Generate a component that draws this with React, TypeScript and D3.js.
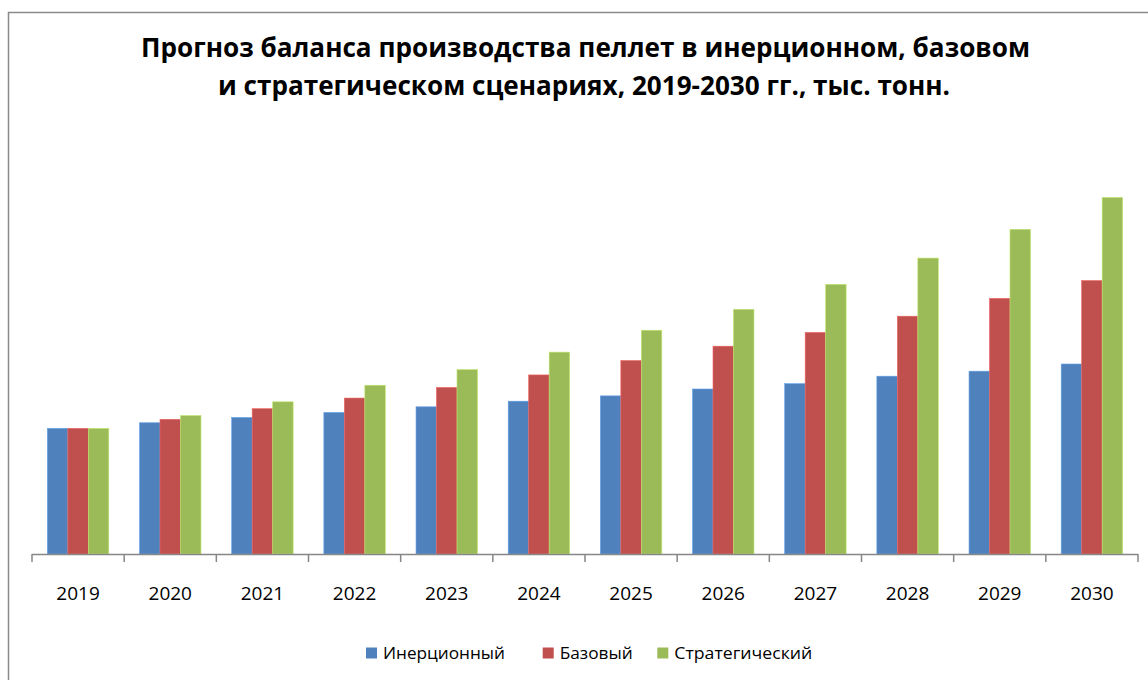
import React from "react";
import * as d3 from "d3";

const years = ["2019","2020","2021","2022","2023","2024","2025","2026","2027","2028","2029","2030"];
const seriesNames = ["Инерционный", "Базовый", "Стратегический"];
const inertial = [2010, 2100, 2185, 2265, 2355, 2445, 2530, 2640, 2725, 2845, 2925, 3040];
const baseline = [2010, 2155, 2325, 2495, 2665, 2865, 3095, 3325, 3545, 3805, 4090, 4375];
const strategic = [2010, 2215, 2435, 2700, 2950, 3230, 3580, 3915, 4315, 4735, 5195, 5705];
const colors = ["#4F81BD", "#C0504D", "#9BBB59"];
const titleLines = [
  "Прогноз баланса производства пеллет в инерционном, базовом",
  "и стратегическом сценариях, 2019-2030 гг., тыс. тонн.",
];

const W = 1148;
const H = 680;
const plot = { left: 32, right: 1138, base: 554, top: 179 };
const FONT = "'Open Sans', 'Liberation Sans', sans-serif";

export default function App() {
  const values = [inertial, baseline, strategic];
  const x = d3.scaleBand<string>().domain(years).range([plot.left, plot.right]).paddingInner(0).paddingOuter(0);
  const step = x.bandwidth();
  const barW = step / 4.5;
  const inner = d3
    .scaleBand<number>()
    .domain([0, 1, 2])
    .range([barW * 0.75, step - barW * 0.75])
    .padding(0);
  const y = d3.scaleLinear().domain([0, 6000]).range([plot.base, plot.top]);

  const tickXs = years.map((yr) => x(yr) as number).concat([plot.right]);

  // legend layout
  const textWidths = [122, 73, 138];
  const slotWidths = [176.7, 114.6, 160];
  const sq = 11;
  const gapSqText = 6;
  const legStart = 366;
  const legX: number[] = [];
  let acc = legStart;
  slotWidths.forEach((w) => {
    legX.push(acc);
    acc += w;
  });

  return (
    <svg
      width={W}
      height={H}
      style={{ position: "absolute", left: 0, top: 0, background: "#fff" }}
      xmlns="http://www.w3.org/2000/svg"
    >
      <rect x={0} y={0} width={W} height={H} fill="#fff" />
      <rect x={8.5} y={12.5} width={1300} height={800} fill="#fff" stroke="#8a8a8a" strokeWidth={1.5} />

      {/* title */}
      <g fontFamily="'Liberation Sans Narrow', 'Open Sans', sans-serif" fontWeight="bold" fontSize={26} fill="#000" textAnchor="middle">
        <text x={585.5} y={57} textLength={889} lengthAdjust="spacingAndGlyphs">{titleLines[0]}</text>
        <text x={584} y={95} textLength={732} lengthAdjust="spacingAndGlyphs">{titleLines[1]}</text>
      </g>

      {/* bars */}
      {years.map((yr, i) => (
        <g key={yr} transform={`translate(${x(yr)},0)`}>
          {values.map((s, k) => (
            <rect
              key={k}
              x={inner(k) as number}
              y={y(s[i])}
              width={inner.bandwidth()}
              height={plot.base - y(s[i])}
              fill={colors[k]}
              stroke={d3.color(colors[k])!.brighter(0.6).formatHex()}
              strokeWidth={0.6}
            />
          ))}
        </g>
      ))}

      {/* axis */}
      <line x1={plot.left} x2={plot.right} y1={plot.base + 0.5} y2={plot.base + 0.5} stroke="#868686" strokeWidth={1.5} />
      {tickXs.map((tx, i) => (
        <line key={i} x1={tx} x2={tx} y1={plot.base} y2={plot.base + 8} stroke="#868686" strokeWidth={1.5} />
      ))}
      {years.map((yr) => (
        <text
          key={yr}
          x={(x(yr) as number) + step / 2}
          y={600}
          textAnchor="middle"
          fontFamily={FONT}
          fontSize={19}
          fill="#000"
        >
          {yr}
        </text>
      ))}

      {/* legend */}
      {seriesNames.map((name, k) => (
        <g key={name} transform={`translate(${legX[k]},0)`}>
          <rect x={0} y={647.5} width={sq} height={sq} fill={colors[k]} />
          <text
            x={sq + gapSqText}
            y={658.5}
            fontFamily={FONT}
            fontSize={17}
            fill="#000"
            textLength={textWidths[k]}
            lengthAdjust="spacingAndGlyphs"
          >
            {name}
          </text>
        </g>
      ))}
    </svg>
  );
}
